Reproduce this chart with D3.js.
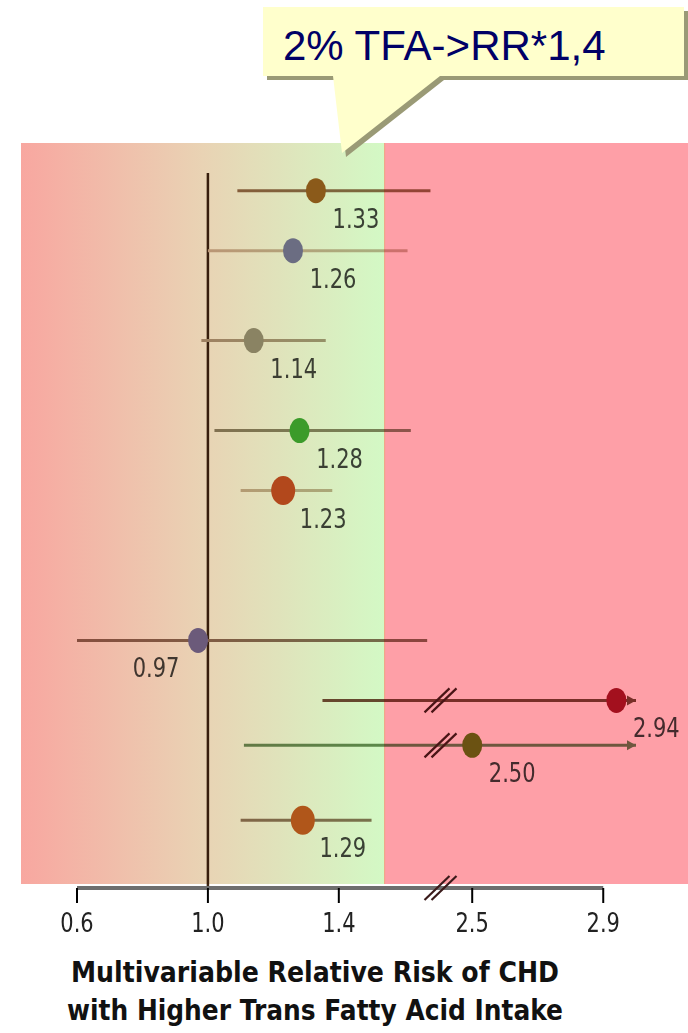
<!DOCTYPE html>
<html>
<head>
<meta charset="utf-8">
<script src="https://cdn.jsdelivr.net/npm/d3@7"></script>
<style>
  body { margin: 0; background: #fff; }
  svg { display: block; }
</style>
</head>
<body>
<div id="chart"></div>
<script>
//study rows: position in the study list, relative risk and 95% CI
var rowIndex = [0, 4, 10, 16, 20, 30, 34, 37, 42];
var rr       = [1.33, 1.26, 1.14, 1.28, 1.23, 0.97, 2.94, 2.50, 1.29];
var ciLow    = [1.09, 1.00, 0.98, 1.02, 1.10, 0.60, 1.35, 1.11, 1.10];
var ciHigh   = [1.68, 1.61, 1.36, 1.62, 1.38, 1.67, 3.00, 3.00, 1.50];
var ciOpen   = [false, false, false, false, false, false, true, true, false];
var pooled   = [false, false, false, false, true, false, false, false, true];
var rrLabels = ['1.33', '1.26', '1.14', '1.28', '1.23', '0.97', '2.94', '2.50', '1.29'];
var dotColors  = ['#8b5a1a', '#6b6d82', '#8a8363', '#3b9b2a', '#b2481c', '#6b5a7a', '#a3101e', '#6b5212', '#b0561a'];
var lineColors = ['#946c50', '#cdb4a5', '#ae9c8a', '#8e8670', '#c8b4a0', '#8c6e5f', '#784b3c', '#6e8c5f', '#907662'];

//axis
var tickValues = [0.6, 1.0, 1.4, 2.5, 2.9];
var tickLabels = ['0.6', '1.0', '1.4', '2.5', '2.9'];
var breakFrom = 1.7, breakTo = 2.42;
var safeLimit = 1.54;

var titleLines = ['Multivariable Relative Risk of CHD', 'with Higher Trans Fatty Acid Intake'];
var calloutText = '2% TFA->RR*1,4';

var width = 688, height = 1033;

var svg = d3.select('#chart').append('svg')
  .attr('width', width)
  .attr('height', height);

//broken x scale (two linear pieces)
var x = d3.scaleLinear()
  .domain([0.6, breakFrom, breakTo, 3.0])
  .range([77, 437, 446, 636]);

var y = d3.scaleLinear()
  .domain([0, 42])
  .range([190.7, 820.3]);

var plotTop = 143, plotBottom = 884, axisY = 888;

//background zones
var defs = svg.append('defs');
var grad = defs.append('linearGradient')
  .attr('id', 'bgGrad')
  .attr('gradientUnits', 'userSpaceOnUse')
  .attr('x1', 21).attr('x2', x(safeLimit))
  .attr('y1', 0).attr('y2', 0);
grad.append('stop').attr('offset', '0%').attr('stop-color', '#f8a7a0');
grad.append('stop').attr('offset', '50%').attr('stop-color', '#e9d3b4');
grad.append('stop').attr('offset', '100%').attr('stop-color', '#d3f9c5');

svg.append('rect')
  .attr('x', 21).attr('y', plotTop)
  .attr('width', x(safeLimit) - 21)
  .attr('height', plotBottom - plotTop)
  .style('fill', 'url(#bgGrad)');

svg.append('rect')
  .attr('x', x(safeLimit)).attr('y', plotTop)
  .attr('width', width - x(safeLimit))
  .attr('height', plotBottom - plotTop)
  .style('fill', '#fe9fa7');

svg.append('line')
  .attr('x1', x(safeLimit)).attr('x2', x(safeLimit))
  .attr('y1', plotTop).attr('y2', plotBottom)
  .style('stroke', '#f0a080')
  .style('stroke-width', 1);

//marks layer, multiplied onto the zones
var marks = svg.append('g').style('mix-blend-mode', 'multiply');

//reference line at RR = 1
marks.append('line')
  .attr('x1', x(1.0)).attr('x2', x(1.0))
  .attr('y1', 173).attr('y2', axisY)
  .style('stroke', '#3d2410')
  .style('stroke-width', 2.5);

var rows = rr.map(function(d, i) { return i; });
var breakX = (x(breakFrom) + x(breakTo)) / 2;

function slashes(g, cx, cy, color) {
  [0, 7].forEach(function(off) {
    g.append('line')
      .attr('x1', cx - 17 + off).attr('y1', cy + 12)
      .attr('x2', cx + 8 + off).attr('y2', cy - 12)
      .style('stroke', color)
      .style('stroke-width', 2.2);
  });
}

//confidence intervals
rows.forEach(function(i) {
  var yy = y(rowIndex[i]);
  marks.append('line')
    .attr('x1', x(ciLow[i])).attr('x2', x(ciHigh[i]))
    .attr('y1', yy).attr('y2', yy)
    .style('stroke', lineColors[i])
    .style('stroke-width', 3);
  if (ciOpen[i]) {
    var tip = x(ciHigh[i]);
    marks.append('path')
      .attr('d', 'M' + tip + ',' + yy + 'L' + (tip - 9) + ',' + (yy - 5) + 'L' + (tip - 9) + ',' + (yy + 5) + 'Z')
      .style('fill', lineColors[i]);
  }
  if (ciLow[i] < breakFrom && ciHigh[i] > breakTo) {
    slashes(marks, breakX, yy, '#4a2020');
  }
});

//value labels
rows.forEach(function(i) {
  var lx = x(rr[i]) + (rr[i] < 1 ? -42 : 40);
  var ly = y(rowIndex[i]) + 37;
  marks.append('text')
    .attr('transform', 'translate(' + lx + ',' + ly + ') scale(1,1.3)')
    .attr('text-anchor', 'middle')
    .style('font-family', 'DejaVu Sans, sans-serif')
    .style('font-size', '21px')
    .style('fill', '#444')
    .text(rrLabels[i]);
});

//point estimates
svg.selectAll('.dot')
  .data(rows)
  .enter().append('ellipse')
  .attr('class', 'dot')
  .attr('cx', function(i) { return x(rr[i]); })
  .attr('cy', function(i) { return y(rowIndex[i]); })
  .attr('rx', function(i) { return pooled[i] ? 12 : 10; })
  .attr('ry', function(i) { return pooled[i] ? 14.5 : 12.5; })
  .style('fill', function(i) { return dotColors[i]; });

//x axis
var axis = svg.append('g');
axis.append('line')
  .attr('x1', x(tickValues[0])).attr('x2', x(tickValues[tickValues.length - 1]))
  .attr('y1', axisY).attr('y2', axisY)
  .style('stroke', '#6e6e6e')
  .style('stroke-width', 4);

var ticks = axis.selectAll('.tick')
  .data(tickValues)
  .enter().append('g')
  .attr('class', 'tick')
  .attr('transform', function(d) { return 'translate(' + x(d) + ',0)'; });

ticks.append('line')
  .attr('y1', axisY).attr('y2', axisY + 15)
  .style('stroke', '#000')
  .style('stroke-width', 2);

ticks.append('text')
  .attr('transform', 'translate(0,' + (axisY + 44) + ') scale(1,1.3)')
  .attr('text-anchor', 'middle')
  .style('font-family', 'DejaVu Sans, sans-serif')
  .style('font-size', '21px')
  .style('fill', '#222')
  .text(function(d, i) { return tickLabels[i]; });

slashes(axis, breakX, axisY, '#3a1a1a');

//axis title
titleLines.forEach(function(t, i) {
  svg.append('text')
    .attr('transform', 'translate(315,' + (982 + i * 38) + ') scale(1,1.3)')
    .attr('text-anchor', 'middle')
    .attr('textLength', i === 0 ? 488 : 496)
    .attr('lengthAdjust', 'spacingAndGlyphs')
    .style('font-family', 'DejaVu Sans, sans-serif')
    .style('font-weight', 'bold')
    .style('font-size', '22px')
    .style('fill', '#111')
    .text(t);
});

//callout bubble
var bubble = 'M263,7 H684 V76 H440 L342,153 L333,76 H263 Z';
svg.append('path')
  .attr('d', bubble)
  .attr('transform', 'translate(4,4)')
  .style('fill', '#9a9a76');
svg.append('path')
  .attr('d', bubble)
  .style('fill', '#ffffcc');
svg.append('text')
  .attr('x', 283).attr('y', 60)
  .style('font-family', 'Liberation Sans, Arial, sans-serif')
  .style('font-size', '42px')
  .style('fill', '#000066')
  .text(calloutText);
</script>
</body>
</html>
